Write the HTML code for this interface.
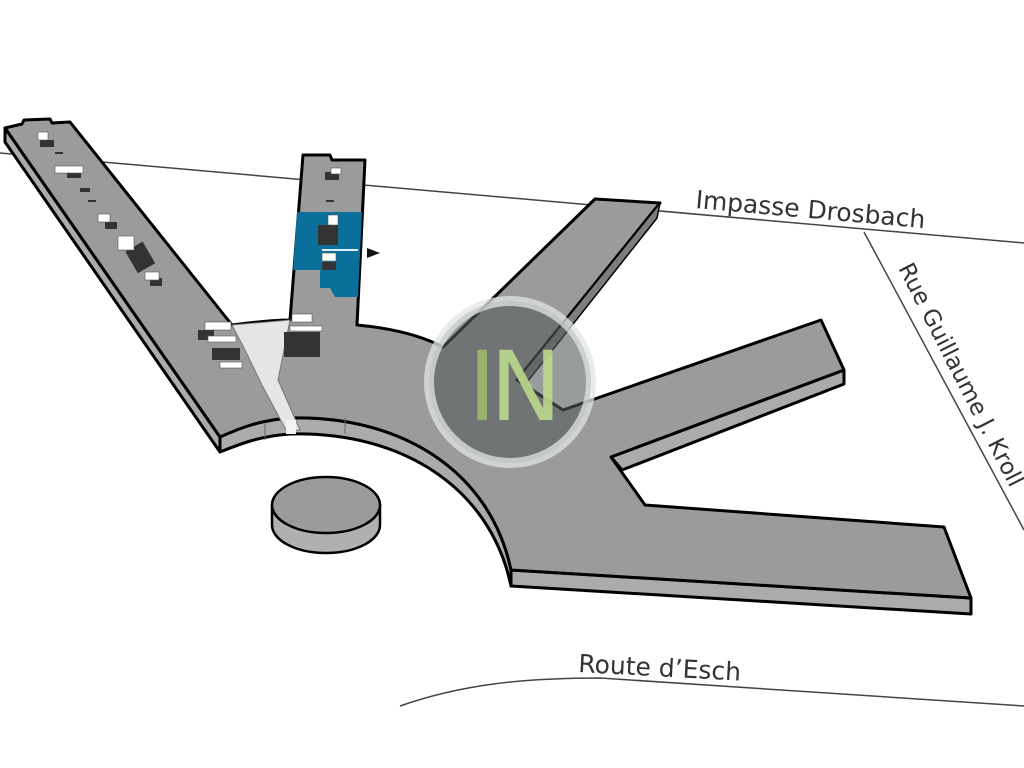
<!DOCTYPE html>
<html><head><meta charset="utf-8"><style>
html,body{margin:0;padding:0;background:#fff;}
svg{display:block;}
text{font-family:"DejaVu Sans","Liberation Sans",sans-serif;fill:#333;}
</style></head><body>
<svg width="1024" height="768" viewBox="0 0 1024 768" xmlns="http://www.w3.org/2000/svg">
<rect width="1024" height="768" fill="#fff"/>
<!-- roads -->
<line x1="0" y1="153" x2="1024" y2="243" stroke="#444" stroke-width="1.5"/>
<line x1="864" y1="232" x2="1024" y2="530" stroke="#444" stroke-width="1.5"/>
<path d="M400,706 C460,685 520,678 600,678 L1024,706" fill="none" stroke="#444" stroke-width="1.5"/>
<text x="695" y="208" font-size="25" transform="rotate(5 695 208)">Impasse Drosbach</text>
<text x="898" y="268" font-size="23" transform="rotate(63 898 268)">Rue Guillaume J. Kroll</text>
<text x="578" y="672" font-size="25" transform="rotate(3 578 672)">Route d’Esch</text>

<!-- side faces -->
<g fill="#ababab" stroke="#000" stroke-width="3" stroke-linejoin="round">
<path d="M5,128 L5,142 L220,452 L220,437 Z"/>
<path d="M220,437 C240,428 260,420 290,418 C400,415 490,470 511,570 L511,586 C490,486 400,431 290,434 C260,436 240,444 220,452 Z"/>
<path d="M511,570 L971,598 L971,614 L511,586 Z"/>
<path d="M844,370 L844,384 L622,470 L611,457 Z"/>
</g>
<!-- top face -->
<path d="M5,128 L22,124 L24,120 L50,119 L52,123 L70,122 L232,325 C255,322 275,320 290,320 L303,155 L330,155 L332,160 L365,160 L357,325 C390,328 420,335 443,347 L595,199 L660,203 L517,380 L563,410 L821,320 L844,370 L611,457 L645,505 L944,527 L971,598 L511,570 C490,470 400,415 290,418 C260,420 240,428 220,437 Z" fill="#9b9b9b" stroke="#000" stroke-width="3" stroke-linejoin="round"/>
<!-- upper arm side strip -->
<path d="M660,203 L657,218 L524,386 L517,380 Z" fill="#7d7d7d" stroke="#000" stroke-width="1.5"/>
<!-- segment lines on front -->
<g stroke="#666" stroke-width="1">
<line x1="265" y1="424" x2="265" y2="440"/><line x1="345" y1="418" x2="345" y2="434"/>
</g>
<!-- interior light area -->
<path d="M232,325 L290,320 L278,380 L300,430 L286,430 L262,385 L245,350 Z" fill="#e6e6e6" stroke="#777" stroke-width="1"/>
<rect x="286" y="420" width="10" height="14" fill="#f2f2f2"/>
<!-- blue area -->
<path d="M297,212 L362,212 L358,297 L335,297 L330,288 L320,288 L320,270 L293,270 Z" fill="#0b6f9b"/>
<line x1="322" y1="250" x2="358" y2="250" stroke="#dfeef5" stroke-width="2"/>
<path d="M367,248 L380,253 L367,258 Z" fill="#111"/>
<!-- small rooms -->
<g fill="#333">
<rect x="40" y="140" width="14" height="7"/><rect x="55" y="152" width="8" height="2"/>
<rect x="67" y="172" width="14" height="6"/><rect x="80" y="188" width="10" height="4"/>
<rect x="88" y="200" width="8" height="2"/><rect x="105" y="222" width="12" height="7"/>
<rect x="130" y="245" width="20" height="25" transform="rotate(-30 140 257)"/>
<rect x="150" y="278" width="12" height="8"/>
<rect x="198" y="330" width="16" height="10"/><rect x="212" y="348" width="28" height="12"/>
<rect x="284" y="332" width="36" height="25"/>
<rect x="318" y="225" width="20" height="20"/><rect x="322" y="262" width="14" height="8"/>
<rect x="325" y="172" width="14" height="8"/><rect x="326" y="200" width="8" height="2"/>
</g>
<g fill="#fff" stroke="#555" stroke-width="0.6">
<rect x="38" y="132" width="10" height="8"/><rect x="55" y="166" width="28" height="7"/>
<rect x="98" y="214" width="12" height="8"/><rect x="118" y="236" width="16" height="14"/>
<rect x="145" y="272" width="14" height="8"/><rect x="205" y="322" width="26" height="8"/>
<rect x="208" y="336" width="28" height="6"/><rect x="220" y="362" width="22" height="6"/>
<rect x="292" y="314" width="20" height="8"/><rect x="290" y="326" width="32" height="5"/>
<rect x="328" y="215" width="10" height="10"/><rect x="322" y="253" width="14" height="8"/>
<rect x="331" y="168" width="10" height="6"/>
</g>
<!-- cylinder -->
<path d="M272,505 L272,525 A54,28 0 0 0 380,525 L380,505 Z" fill="#b0b0b0" stroke="#000" stroke-width="2.5"/>
<ellipse cx="326" cy="505" rx="54" ry="28" fill="#9b9b9b" stroke="#000" stroke-width="2.5"/>
<!-- logo -->
<circle cx="510" cy="382" r="81" fill="rgba(85,90,90,0.6)" stroke="rgba(225,230,225,0.75)" stroke-width="10"/>
<text x="468" y="420" font-size="96" font-family="Liberation Sans, sans-serif" style="fill:#9dba6c;opacity:0.9">I</text>
<text x="490" y="420" font-size="96" font-family="Liberation Sans, sans-serif" style="fill:#bcd98c;opacity:0.9">N</text>
</svg>
</body></html>
